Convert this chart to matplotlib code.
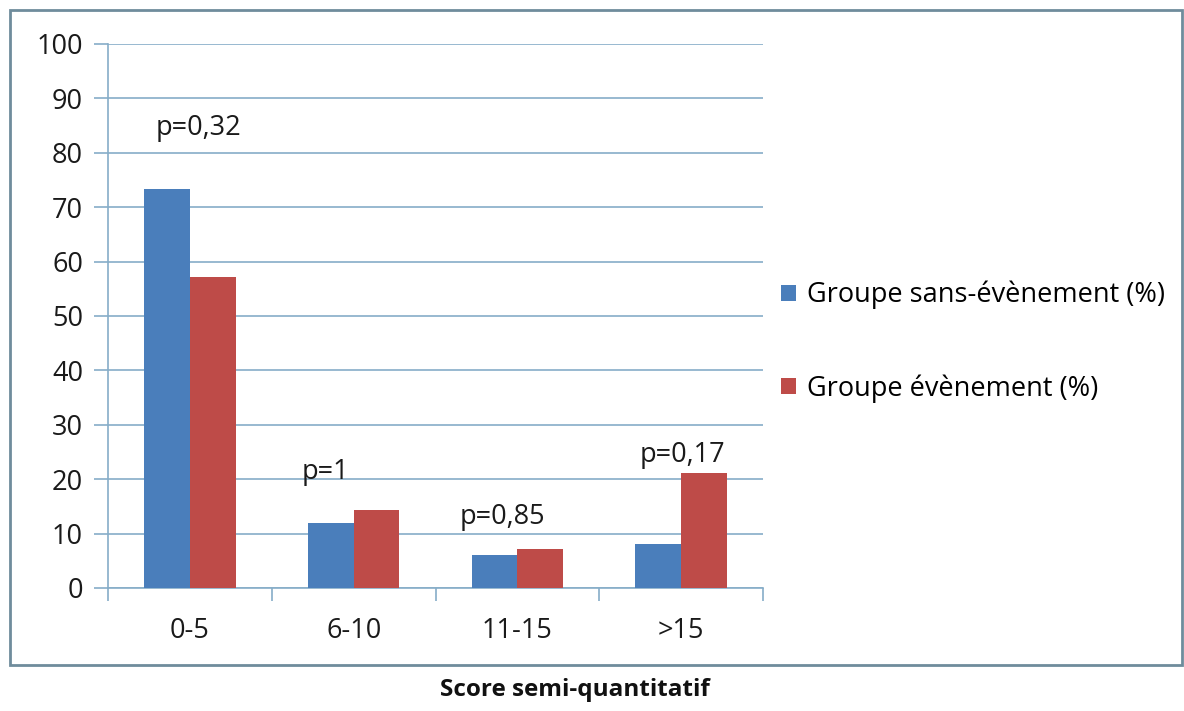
import matplotlib
matplotlib.use("Agg")
import matplotlib.pyplot as plt
import numpy as np
from matplotlib.patches import Rectangle

categories = ["0-5", "6-10", "11-15", ">15"]
sans_evenement = [73.3, 12.0, 6.0, 8.0]
evenement = [57.1, 14.3, 7.1, 21.2]
series_names = ["Groupe sans-évènement (%)", "Groupe évènement (%)"]
p_labels = ["p=0,32", "p=1", "p=0,85", "p=0,17"]
p_label_y = [84.5, 21.3, 13.0, 24.4]
p_label_dx = [0.05, -0.17, -0.09, 0.01]

plt.rcParams['font.family'] = ['Open Sans', 'DejaVu Sans']
FS = 19.5

fig = plt.figure(figsize=(11.84, 7.11), dpi=100)
fig.patch.set_facecolor('white')

# outer frame
frame = Rectangle((10/1184, 1-665/711), (1182-10)/1184, (665-10)/711,
                  transform=fig.transFigure, fill=False, edgecolor='#6F8C9C',
                  linewidth=2.0)
fig.add_artist(frame)

ax = fig.add_axes([108/1184, 1-588/711, (763-108)/1184, (588-44)/711])
grid_c = '#86ADC8'
x = np.arange(len(categories))
w = 0.28
b1 = ax.bar(x - w/2, sans_evenement, w, color='#4A7EBB', label=series_names[0], zorder=3)
b2 = ax.bar(x + w/2, evenement, w, color='#BE4B48', label=series_names[1], zorder=3)

ax.set_xlim(-0.5, len(categories) - 0.5)
ax.set_ylim(0, 100)
ax.set_yticks(np.arange(0, 101, 10))
ax.yaxis.grid(True, color=grid_c, linewidth=1.2, zorder=0)
ax.set_axisbelow(True)
for s in ['top', 'right']:
    ax.spines[s].set_visible(False)
ax.spines['left'].set_color(grid_c)
ax.spines['bottom'].set_color(grid_c)
ax.spines['left'].set_linewidth(1.2)
ax.spines['bottom'].set_linewidth(1.2)

ax.set_xticks(x)
ax.set_xticklabels(categories)
ax.set_xticks(np.arange(-0.5, len(categories), 1), minor=True)
ax.tick_params(axis='x', which='major', length=0, pad=21, labelsize=FS, labelcolor='#1a1a1a')
ax.tick_params(axis='x', which='minor', length=9, color=grid_c, width=1.2)
ax.tick_params(axis='y', length=10, color=grid_c, width=1.2, pad=8, labelsize=FS, labelcolor='#1a1a1a')

for i, (lab, yy, dx) in enumerate(zip(p_labels, p_label_y, p_label_dx)):
    ax.text(i + dx, yy, lab, ha='center', va='center', fontsize=FS, color='#1a1a1a')

leg = fig.legend(handles=[b1, b2], labels=series_names, loc='upper left',
                 bbox_to_anchor=(770/1184, 1-270/711), frameon=False,
                 fontsize=FS, handlelength=0.55, handleheight=0.55,
                 handletextpad=0.4, labelspacing=2.4, borderaxespad=0)

fig.text(575/1184, 1-690/711, "Score semi-quantitatif", ha='center', va='center',
         fontsize=17.5, fontweight='bold', color='#111111')

fig.savefig("out.png", dpi=100, facecolor='white')
